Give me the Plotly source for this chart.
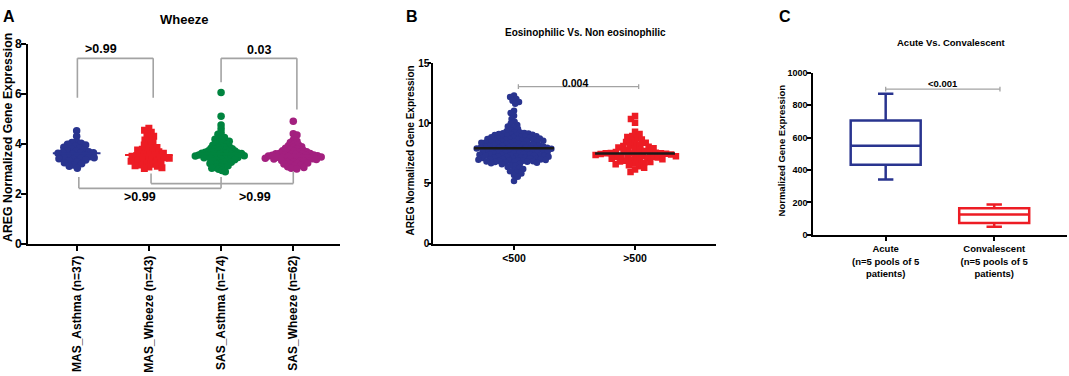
import numpy as np
import plotly.graph_objects as go

# ---------------- DATA ----------------
# Panel A: AREG normalized gene expression by group (Wheeze)
groups_a = ["MAS_Asthma (n=37)", "MAS_Wheeze (n=43)", "SAS_Asthma (n=74)", "SAS_Wheeze (n=62)"]
mas_asthma = [4.52, 4.30, 4.08, 4.05, 4.02, 3.98, 3.95, 3.90, 3.86, 3.82, 3.80, 3.76, 3.72, 3.70,
              3.68, 3.65, 3.64, 3.63, 3.62, 3.58, 3.55, 3.52, 3.50, 3.48, 3.46, 3.44, 3.42, 3.40,
              3.38, 3.35, 3.32, 3.28, 3.24, 3.20, 3.15, 3.10, 3.02]
mas_wheeze = [4.62, 4.54, 4.46, 4.38, 4.30, 4.22, 4.15, 4.10, 4.02, 3.95, 3.90, 3.85, 3.82, 3.78,
              3.75, 3.72, 3.68, 3.65, 3.62, 3.60, 3.57, 3.55, 3.53, 3.50, 3.48, 3.46, 3.44, 3.42,
              3.40, 3.38, 3.35, 3.32, 3.30, 3.27, 3.24, 3.21, 3.18, 3.15, 3.12, 3.10, 3.07, 3.04, 3.01]
sas_asthma = [6.05, 5.10, 4.75, 4.60, 4.45, 4.38, 4.30, 4.25, 4.20, 4.18, 4.15, 4.12, 4.10, 4.05,
              4.02, 4.00, 3.97, 3.94, 3.91, 3.88, 3.86, 3.84, 3.82, 3.80, 3.78, 3.76, 3.74, 3.72,
              3.71, 3.70, 3.68, 3.67, 3.66, 3.64, 3.63, 3.62, 3.61, 3.60, 3.59, 3.58, 3.57, 3.56,
              3.55, 3.54, 3.53, 3.52, 3.51, 3.50, 3.48, 3.47, 3.46, 3.45, 3.44, 3.42, 3.41, 3.40,
              3.38, 3.36, 3.34, 3.32, 3.30, 3.28, 3.26, 3.24, 3.21, 3.18, 3.15, 3.12, 3.08, 3.05,
              3.02, 2.98, 2.93, 2.88]
sas_wheeze = [4.90, 4.40, 4.35, 4.15, 4.10, 4.05, 4.00, 3.96, 3.92, 3.88, 3.85, 3.82, 3.79, 3.76,
              3.74, 3.72, 3.70, 3.68, 3.66, 3.64, 3.62, 3.61, 3.60, 3.59, 3.58, 3.57, 3.56, 3.55,
              3.54, 3.53, 3.52, 3.51, 3.50, 3.49, 3.48, 3.47, 3.46, 3.45, 3.44, 3.43, 3.42, 3.41,
              3.40, 3.39, 3.38, 3.37, 3.35, 3.33, 3.31, 3.29, 3.27, 3.25, 3.23, 3.21, 3.19, 3.17,
              3.14, 3.11, 3.08, 3.05, 3.02, 2.99]
pvals_a = [">0.99", "0.03", ">0.99", ">0.99"]

# Panel B: Eosinophilic vs non eosinophilic
groups_b = ["<500", ">500"]
eos_below = [12.30, 12.18, 12.02, 11.88, 11.76, 11.62, 11.05, 10.85, 10.62, 10.35, 10.12, 9.98,
             9.86, 9.74, 9.62, 9.52, 9.42, 9.34,
             9.26, 9.23, 9.20, 9.17, 9.14, 9.11, 9.08, 9.05, 9.02, 8.99, 8.96, 8.93, 8.91, 8.88,
             8.85, 8.83, 8.80, 8.78, 8.75, 8.73, 8.70, 8.68, 8.66, 8.63, 8.61, 8.59, 8.56, 8.54,
             8.52, 8.49, 8.47, 8.45, 8.42, 8.40, 8.38, 8.35, 8.33, 8.31, 8.28, 8.26, 8.24, 8.21,
             8.19, 8.17, 8.14, 8.12, 8.10, 8.07, 8.05, 8.03, 8.01, 7.99, 7.98, 7.97, 7.96, 7.95, 7.93,
             7.91, 7.89, 7.87, 7.85, 7.83, 7.81, 7.79, 7.77, 7.75, 7.73, 7.71, 7.69, 7.67, 7.65,
             7.63, 7.61, 7.59, 7.57, 7.55, 7.53, 7.51, 7.49, 7.47, 7.45, 7.43, 7.41, 7.39, 7.37,
             7.35, 7.33, 7.31, 7.29, 7.27, 7.25, 7.23, 7.21, 7.19, 7.17, 7.15, 7.13, 7.11, 7.09,
             7.07, 7.05, 7.03, 7.01, 6.99, 6.97, 6.95, 6.93, 6.91, 6.89, 6.87, 6.85, 6.83, 6.81,
             6.79, 6.77, 6.74, 6.71, 6.68, 6.64, 6.60,
             6.52, 6.44, 6.36, 6.28, 6.20, 6.12, 6.02, 5.92, 5.82, 5.70, 5.55, 5.20]
eos_above = [10.60, 10.35, 10.05, 9.30, 9.10, 8.95, 8.85, 8.75, 8.65, 8.55, 8.45, 8.38, 8.30, 8.22,
             8.15, 8.10, 8.04, 7.98, 7.92, 7.86, 7.80, 7.75, 7.70, 7.66, 7.62, 7.58, 7.55, 7.53,
             7.51, 7.50, 7.49, 7.47, 7.45, 7.42, 7.40, 7.37, 7.34, 7.31, 7.28, 7.25, 7.22, 7.19,
             7.16, 7.12, 7.08, 7.04, 7.00, 6.96, 6.92, 6.88, 6.83, 6.78, 6.72, 6.66, 6.60, 6.52,
             6.42, 6.30, 6.15, 5.95]
pval_b = "0.004"

# Panel C: Acute vs convalescent (box summary: min, q1, median, q3, max)
groups_c = ["Acute<br>(n=5 pools of 5<br>patients)", "Convalescent<br>(n=5 pools of 5<br>patients)"]
box_min = [341, 50]
box_q1 = [433, 73]
box_median = [550, 125]
box_q3 = [706, 164]
box_max = [871, 188]
pval_c = "<0.001"

# ---------------- STYLE ----------------
W, H = 1069, 376
FAM = "Liberation Sans, Arial, Helvetica, sans-serif"
NAVY = "#29348f"
RED = "#ed1c24"
GREEN = "#00843f"
PURPLE = "#a3207f"
GRAY = "#a3a3a3"


def font(size, bold=True, color="black"):
    return dict(family=FAM, size=size, color=color, weight="bold" if bold else "normal")


# plot boxes in pixels: left, right, top, bottom
boxA = (28, 340, 38.3, 246.0)
boxB = (433.3, 716, 58.3, 245.7)
boxC = (813.3, 1066.7, 68.3, 236.7)
xrA, yrA = [-0.674, 3.647], [0, 8]
xrB, yrB = [-0.667, 1.669], [0, 15]
xrC, yrC = [-0.667, 1.668], [0, 1000]


def dom(box):
    l, r, t, b = box
    return [l / W, r / W], [1 - b / H, 1 - t / H]


def scale(box, xr, yr):
    l, r, t, b = box
    return (r - l) / (xr[1] - xr[0]), (b - t) / (yr[1] - yr[0])


def swarm(vals, ppx, ppy, d):
    vals = np.asarray(vals, float)
    order = np.argsort(-vals, kind="stable")
    xs = np.zeros(len(vals))
    placed = []
    for k, i in enumerate(order):
        y = vals[i] * ppy
        cands = [0.0]
        blocks = []
        for px, py in placed:
            dy = abs(py - y)
            if dy < d:
                w = (d * d - dy * dy) ** 0.5
                blocks.append((px - w, px + w))
                cands += [px - w, px + w]
        sgn = 1 if k % 2 else -1
        cands.sort(key=lambda c: (round(abs(c), 6), sgn * c))
        for c in cands:
            if all(not (lo + 1e-7 < c < hi - 1e-7) for lo, hi in blocks):
                xs[i] = c
                break
        placed.append((xs[i], y))
    return xs / ppx


fig = go.Figure()

# ---------------- PANEL A ----------------
ppxA, ppyA = scale(boxA, xrA, yrA)
seriesA = [(mas_asthma, NAVY, "circle", 7.5, 4.8),
           (mas_wheeze, RED, "square", 7, 4.8),
           (sas_asthma, GREEN, "circle", 7.5, 3.6),
           (sas_wheeze, PURPLE, "circle", 7.5, 3.9)]
for gi, (vals, col, sym, sz, d) in enumerate(seriesA):
    off = swarm(vals, ppxA, ppyA, d)
    fig.add_trace(go.Scatter(x=gi + off, y=vals, mode="markers", xaxis="x", yaxis="y",
                             marker=dict(color=col, symbol=sym, size=sz, line=dict(width=0)),
                             showlegend=False, hoverinfo="y"))
    med = float(np.median(vals))
    fig.add_trace(go.Scatter(x=[gi - 0.33, gi + 0.33], y=[med, med], mode="lines",
                             xaxis="x", yaxis="y", line=dict(color=col, width=2),
                             showlegend=False, hoverinfo="skip"))

# ---------------- PANEL B ----------------
ppxB, ppyB = scale(boxB, xrB, yrB)
seriesB = [(eos_below, NAVY, "circle", 6.5, 4.2),
           (eos_above, RED, "square", 6.5, 5.15)]
for gi, (vals, col, sym, sz, d) in enumerate(seriesB):
    off = swarm(vals, ppxB, ppyB, d)
    fig.add_trace(go.Scatter(x=gi + off, y=vals, mode="markers", xaxis="x2", yaxis="y2",
                             marker=dict(color=col, symbol=sym, size=sz, line=dict(width=0)),
                             showlegend=False, hoverinfo="y"))
    med = float(np.median(vals))
    fig.add_trace(go.Scatter(x=[gi - 0.33, gi + 0.33], y=[med, med], mode="lines",
                             xaxis="x2", yaxis="y2", line=dict(color="#1a1a1a", width=2.5),
                             showlegend=False, hoverinfo="skip"))

# ---------------- PANEL C ----------------
for gi, col in enumerate([NAVY, RED]):
    fig.add_trace(go.Box(x=[gi], q1=[box_q1[gi]], median=[box_median[gi]], q3=[box_q3[gi]],
                         lowerfence=[box_min[gi]], upperfence=[box_max[gi]],
                         orientation="v", xaxis="x3", yaxis="y3", width=0.645,
                         whiskerwidth=0.22, fillcolor="white", boxpoints=False,
                         line=dict(color=col, width=2.5), showlegend=False))

# ---------------- AXES ----------------
def xaxis(box, xr, vals, text, tfont, angle, ticklen, anchor):
    d, _ = dom(box)
    return dict(domain=d, range=xr, anchor=anchor, showgrid=False, zeroline=False,
                showline=True, linecolor="black", linewidth=2, ticks="outside",
                ticklen=ticklen, tickwidth=2, tickcolor="black", tickvals=vals,
                ticktext=text, tickfont=tfont, tickangle=angle, fixedrange=True)


def yaxis(box, yr, dtick, tfont, ticklen, anchor, standoff):
    _, d = dom(box)
    return dict(domain=d, range=yr, anchor=anchor, showgrid=False, zeroline=False,
                showline=True, linecolor="black", linewidth=2, ticks="outside",
                ticklen=ticklen, tickwidth=2, tickcolor="black", dtick=dtick, tick0=0,
                tickfont=tfont, fixedrange=True, ticklabelstandoff=standoff)


fig.update_layout(
    xaxis=xaxis(boxA, xrA, [0, 1, 2, 3], groups_a, font(12), -90, 5, "y"),
    yaxis=yaxis(boxA, yrA, 2, font(12), 5, "x", -3),
    xaxis2=xaxis(boxB, xrB, [0, 1], groups_b, font(10.5), 0, 4, "y2"),
    yaxis2=yaxis(boxB, yrB, 5, font(10), 3, "x2", -3),
    xaxis3=xaxis(boxC, xrC, [0, 1], groups_c, font(9.5), 0, 4, "y3"),
    yaxis3=yaxis(boxC, yrC, 200, font(9), 4, "x3", -2),
)

# ---------------- BRACKETS ----------------
shapes = []


def seg(xref, yref, x0, y0, x1, y1, w=1.6):
    shapes.append(dict(type="line", xref=xref, yref=yref, x0=x0, y0=y0, x1=x1, y1=y1,
                       line=dict(color=GRAY, width=w)))


# Panel A top brackets
seg("x", "y", 0.01, 5.84, 0.01, 7.42); seg("x", "y", 0.01, 7.42, 1.06, 7.42); seg("x", "y", 1.06, 7.42, 1.06, 5.84)
seg("x", "y", 2.0, 6.46, 2.0, 7.42); seg("x", "y", 2.0, 7.42, 3.05, 7.42); seg("x", "y", 3.05, 7.42, 3.05, 5.37)
# Panel A bottom brackets
seg("x", "y", 0.03, 2.67, 0.03, 2.22); seg("x", "y", 0.03, 2.22, 2.0, 2.22); seg("x", "y", 2.0, 2.22, 2.0, 2.67)
seg("x", "y", 1.03, 2.81, 1.03, 2.41); seg("x", "y", 1.03, 2.41, 3.0, 2.41); seg("x", "y", 3.0, 2.41, 3.0, 2.89)
# Panel B bracket
seg("x2", "y2", 0.036, 13.05, 1.03, 13.05, 1.3)
seg("x2", "y2", 0.036, 12.85, 0.036, 13.25, 1.3); seg("x2", "y2", 1.03, 12.85, 1.03, 13.25, 1.3)
# Panel C bracket
seg("x3", "y3", 0.0, 899, 1.053, 899, 1.3)
seg("x3", "y3", 0.0, 884, 0.0, 914, 1.3); seg("x3", "y3", 1.053, 884, 1.053, 914, 1.3)
fig.update_layout(shapes=shapes)

# ---------------- ANNOTATIONS ----------------
ann = []


def paper_text(text, px, py, f, angle=0):
    ann.append(dict(text=text, x=px / W, y=1 - py / H, xref="paper", yref="paper",
                    xanchor="center", yanchor="middle", showarrow=False, font=f,
                    textangle=angle))


def data_text(text, xref, yref, x, y, f):
    ann.append(dict(text=text, x=x, y=y, xref=xref, yref=yref, xanchor="center",
                    yanchor="middle", showarrow=False, font=f))


paper_text("A", 8.5, 10, font(16))
paper_text("B", 411.5, 10, font(16))
paper_text("C", 785, 10, font(16))
paper_text("Wheeze", 184, 13, font(13))
paper_text("Eosinophilic Vs. Non eosinophilic", 585, 26.7, font(10))
paper_text("Acute Vs. Convalescent", 951.7, 36.7, font(9.5))
paper_text("AREG Normalized Gene Expression", 8, 136, font(12.3), -90)
paper_text("AREG Normalized Gene Expression", 410.5, 149.5, font(10), -90)
paper_text("Normalized Gene Expression", 781.5, 149.5, font(9.5), -90)

data_text(pvals_a[0], "x", "y", 0.34, 7.79, font(12.5))
data_text(pvals_a[1], "x", "y", 2.52, 7.74, font(12.5))
data_text(pvals_a[2], "x", "y", 0.88, 1.87, font(12.5))
data_text(pvals_a[3], "x", "y", 2.47, 1.87, font(12.5))
data_text(pval_b, "x2", "y2", 0.504, 13.34, font(10.5))
data_text(pval_c, "x3", "y3", 0.526, 934, font(9.5))
fig.update_layout(annotations=ann)

fig.update_layout(width=W, height=H, margin=dict(l=0, r=0, t=0, b=0),
                  paper_bgcolor="white", plot_bgcolor="white", showlegend=False,
                  font=dict(family=FAM, color="black"))

fig.write_html("out.html", config={"displayModeBar": False},
               post_script="document.body.style.margin='0px';")
